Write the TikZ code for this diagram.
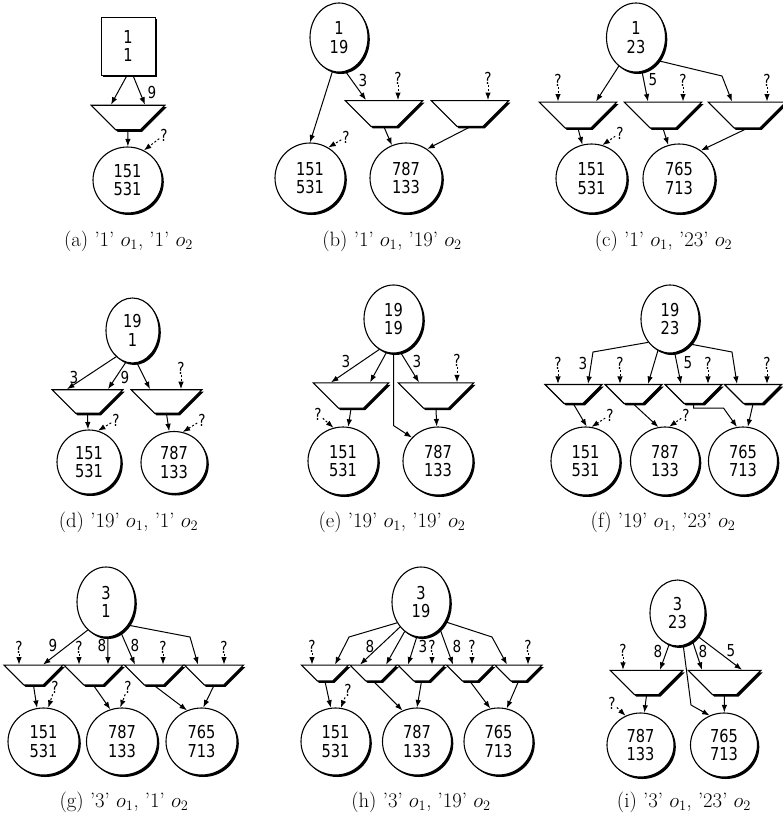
\documentclass[tikz,border=0pt]{standalone}
\usepackage{fontspec}
\newfontfamily\nodefont[FakeStretch=0.82]{DejaVu Sans}
\usetikzlibrary{shapes.geometric,shadows,arrows.meta,calc}

\tikzset{
  dshadow/.style={drop shadow={shadow xshift=1.8pt, shadow yshift=-2pt, fill=black, opacity=1}},
  res/.style 2 args={ellipse, draw, fill=white, line width=1.1pt, inner sep=0pt,
    minimum width=#1, minimum height=#2, align=center,
    font=\nodefont\fontsize{17.8}{18.3}\selectfont, dshadow},
  box/.style 2 args={rectangle, draw, fill=white, line width=1pt, inner sep=0pt,
    minimum width=#1, minimum height=#2, align=center,
    font=\nodefont\fontsize{17.8}{18.3}\selectfont, dshadow},
  mux/.style 2 args={trapezium, trapezium left angle=135, trapezium right angle=135,
    draw, fill=white, line width=1.1pt, inner sep=0.5pt,
    minimum width=#1, minimum height=#2, dshadow},
  lbl/.style={inner sep=1pt, font=\nodefont\fontsize{16.5}{17}\selectfont},
  link/.style={-{Latex[length=7.5pt,width=5.5pt]}, line width=1pt},
  qlink/.style={link, dash pattern=on 2pt off 2pt},
  subcap/.style={font=\huge}
}

\begin{document}
\begin{tikzpicture}[x=1pt,y=-1pt]
\useasboundingbox (0,0) rectangle (783,817);

% (a)
\node[box={54pt}{58pt}] (a-top) at (128,46) {1\\1};
\node[mux={74pt}{21pt}] (a-m1) at (128,117.5) {};
\node[res={69pt}{66pt}] (a-o1) at (127.5,180) {151\\531};
\node[lbl] (a-l1) at (152,92) {9};
\node[lbl] (a-q1) at (164,135) {?};
\node[subcap] (a-cap) at (128.5,241) {(a) '1' $o_1$, '1' $o_2$};
\draw[link] ($(a-top.south)+(-1,0)$) -- ($(a-m1.north)+(-17,0)$);
\draw[link] ($(a-top.south)+(5,0)$) -- ($(a-m1.north)+(17,0)$);
\draw[link] (a-m1.south) -- (a-o1);
\draw[qlink] (a-q1) -- (a-o1.61);

% (b)
\node[res={58pt}{69pt}] (b-top) at (339,37.5) {1\\19};
\node[mux={78pt}{23pt}] (b-m1) at (384,113.5) {};
\node[mux={78pt}{23pt}] (b-m2) at (470,113.5) {};
\node[res={70pt}{70pt}] (b-o1) at (310,178) {151\\531};
\node[res={72pt}{70pt}] (b-o2) at (406,178) {787\\133};
\node[lbl] (b-l1) at (363,80) {3};
\node[lbl] (b-q1) at (398,78) {?};
\node[lbl] (b-q2) at (488,78) {?};
\node[lbl] (b-q3) at (346,137) {?};
\node[subcap] (b-cap) at (392,241) {(b) '1' $o_1$, '19' $o_2$};
\draw[link] (b-top.-101) -- (b-o1.north);
\draw[link] (b-top.-79) -- ($(b-m1.north)+(-18,0)$);
\draw[qlink] (b-q1) -- ($(b-m1.north)+(14,0)$);
\draw[qlink] (b-q2) -- ($(b-m2.north)+(18,0)$);
\draw[link] (b-m1.south) -- (b-o2);
\draw[link] (b-m2.south) -- (b-o2.54);
\draw[qlink] (b-q3) -- (b-o1.59);

% (c)
\node[res={59pt}{69pt}] (c-top) at (636,37.5) {1\\23};
\node[mux={78pt}{24pt}] (c-m1) at (578,115) {};
\node[mux={78pt}{24pt}] (c-m2) at (663,115) {};
\node[mux={78pt}{24pt}] (c-m3) at (747,115) {};
\node[res={71pt}{69pt}] (c-o1) at (591.5,178.5) {151\\531};
\node[res={72pt}{69pt}] (c-o2) at (679,178.5) {765\\713};
\node[lbl] (c-l1) at (653,80) {5};
\node[lbl] (c-q1) at (558,80) {?};
\node[lbl] (c-q2) at (683,80) {?};
\node[lbl] (c-q3) at (767,80) {?};
\node[lbl] (c-q4) at (620,133) {?};
\node[subcap] (c-cap) at (663.5,241) {(c) '1' $o_1$, '23' $o_2$};
\draw[link] (c-top.-121) -- ($(c-m1.north)+(18,0)$);
\draw[link] (c-top.-80) -- ($(c-m2.north)+(-15,0)$);
\draw[link] (c-top.-46) -- (722,76) -- ($(c-m3.north)+(-15,0)$);
\draw[qlink] (c-q1) -- ($(c-m1.north)+(-20,0)$);
\draw[qlink] (c-q2) -- ($(c-m2.north)+(20,0)$);
\draw[qlink] (c-q3) -- ($(c-m3.north)+(20,0)$);
\draw[link] (c-m1.south) -- (c-o1);
\draw[link] (c-m2.south) -- (c-o2);
\draw[link] (c-m3.south) -- (c-o2.52);
\draw[qlink] (c-q4) -- (c-o1.72);

% (d)
\node[res={53pt}{65pt}] (d-top) at (132.5,330.5) {19\\1};
\node[mux={71pt}{21pt}] (d-m1) at (87.5,401.5) {};
\node[mux={71pt}{21pt}] (d-m2) at (166.5,401.5) {};
\node[res={64pt}{64pt}] (d-o1) at (89,462) {151\\531};
\node[res={66pt}{62pt}] (d-o2) at (174,462.5) {787\\133};
\node[lbl] (d-l1) at (74,377) {3};
\node[lbl] (d-l2) at (125,377) {9};
\node[lbl] (d-q1) at (181,368) {?};
\node[lbl] (d-q2) at (116,420) {?};
\node[lbl] (d-q3) at (202,420) {?};
\node[subcap] (d-cap) at (128.5,522) {(d) '19' $o_1$, '1' $o_2$};
\draw[link] (d-top.-122) -- ($(d-m1.north)+(-20.5,0)$);
\draw[link] (d-top.-102) -- ($(d-m1.north)+(20.5,0)$);
\draw[link] (d-top.-82) -- ($(d-m2.north)+(-16.5,0)$);
\draw[qlink] (d-q1) -- ($(d-m2.north)+(14.5,0)$);
\draw[link] (d-m1.south) -- (d-o1);
\draw[link] (d-m2.south) -- (d-o2);
\draw[qlink] (d-q2) -- (d-o1.74);
\draw[qlink] (d-q3) -- (d-o2.74);

% (e)
\node[res={59pt}{68pt}] (e-top) at (393.5,319) {19\\19};
\node[mux={76pt}{23pt}] (e-m1) at (351,395.5) {};
\node[mux={76pt}{23pt}] (e-m2) at (436,395.5) {};
\node[res={70pt}{68pt}] (e-o1) at (343,461) {151\\531};
\node[res={70pt}{68pt}] (e-o2) at (438,461) {787\\133};
\node[lbl] (e-l1) at (346,361) {3};
\node[lbl] (e-l2) at (417,361) {3};
\node[lbl] (e-q1) at (457,360) {?};
\node[lbl] (e-q2) at (318,414) {?};
\node[subcap] (e-cap) at (392,522) {(e) '19' $o_1$, '19' $o_2$};
\draw[link] (e-top.-115) -- ($(e-m1.north)+(-20,0)$);
\draw[link] (e-top.-102) -- ($(e-m1.north)+(19,0)$);
\draw[link] (e-top.south) -- ++(0,72) -- (e-o2.138);
\draw[link] (e-top.-78) -- ($(e-m2.north)+(-17,0)$);
\draw[qlink] (e-q1) -- ($(e-m2.north)+(21,0)$);
\draw[link] (e-m1.south) -- (e-o1);
\draw[link] (e-m2.south) -- (e-o2);
\draw[qlink] (e-q2) -- (e-o1.106);

% (f)
\node[res={58pt}{68pt}] (f-top) at (670,319) {19\\23};
\node[mux={57pt}{18pt}] (f-m1) at (573.5,394) {};
\node[mux={57pt}{18pt}] (f-m2) at (633.5,394) {};
\node[mux={57pt}{18pt}] (f-m3) at (693.5,394) {};
\node[mux={57pt}{18pt}] (f-m4) at (753,394) {};
\node[res={69pt}{68pt}] (f-o1) at (585.5,461) {151\\531};
\node[res={69pt}{68pt}] (f-o2) at (665,461) {787\\133};
\node[res={69pt}{68pt}] (f-o3) at (743,461) {765\\713};
\node[lbl] (f-l1) at (583,363) {3};
\node[lbl] (f-l2) at (688,363) {5};
\node[lbl] (f-q1) at (558,363) {?};
\node[lbl] (f-q2) at (620,363) {?};
\node[lbl] (f-q3) at (708,363) {?};
\node[lbl] (f-q4) at (767,363) {?};
\node[lbl] (f-q5) at (610,415) {?};
\node[lbl] (f-q6) at (686,415) {?};
\node[subcap] (f-cap) at (663,522) {(f) '19' $o_1$, '23' $o_2$};
\draw[link] (f-top.-133) -- (593,352) -- ($(f-m1.north)+(14.5,0)$);
\draw[link] (f-top.-111) -- ($(f-m2.north)+(14.5,0)$);
\draw[link] (f-top.-82) -- ($(f-m3.north)+(-12.5,0)$);
\draw[link] (f-top.-51) -- (732,352) -- ($(f-m4.north)+(-16,0)$);
\draw[qlink] (f-q1) -- ($(f-m1.north)+(-15.5,0)$);
\draw[qlink] (f-q2) -- ($(f-m2.north)+(-13.5,0)$);
\draw[qlink] (f-q3) -- ($(f-m3.north)+(14.5,0)$);
\draw[qlink] (f-q4) -- ($(f-m4.north)+(14,0)$);
\draw[link] (f-m1.south) -- (f-o1.88);
\draw[link] (f-m2.south) -- (f-o2.101);
\draw[link] (f-m3.south) -- ++(0,4) -- ++(30,0) -- (f-o3.100);
\draw[link] (f-m4.south) -- (f-o3.82);
\draw[qlink] (f-q5) -- (f-o1.80);
\draw[qlink] (f-q6) -- (f-o2.83);

% (g)
\node[res={58pt}{70pt}] (g-top) at (106,602) {3\\1};
\node[mux={59pt}{16pt}] (g-m1) at (33.5,675) {};
\node[mux={59pt}{16pt}] (g-m2) at (93.5,675) {};
\node[mux={59pt}{16pt}] (g-m3) at (154,675) {};
\node[mux={59pt}{16pt}] (g-m4) at (214,675) {};
\node[res={71pt}{67pt}] (g-o1) at (43.5,741.5) {151\\531};
\node[res={71pt}{67pt}] (g-o2) at (122,741.5) {787\\133};
\node[res={71pt}{67pt}] (g-o3) at (201.5,741.5) {765\\713};
\node[lbl] (g-l1) at (53,645) {9};
\node[lbl] (g-l2) at (102,645) {8};
\node[lbl] (g-l3) at (135,645) {8};
\node[lbl] (g-q1) at (19,647) {?};
\node[lbl] (g-q2) at (79,647) {?};
\node[lbl] (g-q3) at (163,647) {?};
\node[lbl] (g-q4) at (224,647) {?};
\node[lbl] (g-q5) at (55,687) {?};
\node[lbl] (g-q6) at (128,687) {?};
\node[subcap] (g-cap) at (124,802) {(g) '3' $o_1$, '1' $o_2$};
\draw[link] (g-top.-123) -- ($(g-m1.north)+(9.5,0)$);
\draw[link] (g-top.-87) -- ($(g-m2.north)+(14.5,0)$);
\draw[link] (g-top.-64) -- ($(g-m3.north)+(-19,0)$);
\draw[link] (g-top.-46) -- (190,637) -- ($(g-m4.north)+(-16,0)$);
\draw[qlink] (g-q1) -- ($(g-m1.north)+(-14.5,0)$);
\draw[qlink] (g-q2) -- ($(g-m2.north)+(-14.5,0)$);
\draw[qlink] (g-q3) -- ($(g-m3.north)+(9,0)$);
\draw[qlink] (g-q4) -- ($(g-m4.north)+(10,0)$);
\draw[link] (g-m1.south) -- (g-o1.101);
\draw[link] (g-m2.south) -- (g-o2.110);
\draw[link] (g-m3.south) -- (g-o3.115);
\draw[link] (g-m4.south) -- (g-o3.87);
\draw[qlink] (g-q5) -- (g-o1.82);
\draw[qlink] (g-q6) -- (g-o2.93);

% (h)
\node[res={58pt}{70pt}] (h-top) at (421,602) {3\\19};
\node[mux={47pt}{14pt}] (h-m1) at (325,673) {};
\node[mux={47pt}{14pt}] (h-m2) at (373.5,673) {};
\node[mux={47pt}{14pt}] (h-m3) at (421.5,673) {};
\node[mux={47pt}{14pt}] (h-m4) at (470,673) {};
\node[mux={47pt}{14pt}] (h-m5) at (518.5,673) {};
\node[res={69pt}{67pt}] (h-o1) at (335.5,741.5) {151\\531};
\node[res={69pt}{67pt}] (h-o2) at (417,741.5) {787\\133};
\node[res={69pt}{67pt}] (h-o3) at (498.5,741.5) {765\\713};
\node[lbl] (h-l1) at (370,646) {8};
\node[lbl] (h-l2) at (423,646) {3};
\node[lbl] (h-l3) at (457,646) {8};
\node[lbl] (h-q1) at (312,646) {?};
\node[lbl] (h-q2) at (432,646) {?};
\node[lbl] (h-q3) at (472,646) {?};
\node[lbl] (h-q4) at (528,646) {?};
\node[lbl] (h-q5) at (348,690) {?};
\node[subcap] (h-cap) at (421,802) {(h) '3' $o_1$, '19' $o_2$};
\draw[link] (h-top.-139) -- (349,637) -- ($(h-m1.north)+(10,0)$);
\draw[link] (h-top.-130) -- ($(h-m2.north)+(-13.5,0)$);
\draw[link] (h-top.-119) -- ($(h-m2.north)+(12.5,0)$);
\draw[link] (h-top.-97) -- ($(h-m3.north)+(-13.5,0)$);
\draw[link] (h-top.-55) -- ($(h-m4.north)+(-17,0)$);
\draw[link] (h-top.-39) -- (492,637) -- ($(h-m5.north)+(-11.5,0)$);
\draw[qlink] (h-q1) -- ($(h-m1.north)+(-13,0)$);
\draw[qlink] (h-q2) -- ($(h-m3.north)+(10.5,0)$);
\draw[qlink] (h-q3) -- ($(h-m4.north)+(2,0)$);
\draw[qlink] (h-q4) -- ($(h-m5.north)+(9.5,0)$);
\draw[link] (h-m1.south) -- (h-o1.98);
\draw[link] (h-m2.south) -- (h-o2.115);
\draw[link] (h-m3.south) -- (h-o2.north);
\draw[link] (h-m4.south) -- (h-o3.104);
\draw[link] (h-m5.south) -- (h-o3.76);
\draw[qlink] (h-q5) -- (h-o1.81);

% (i)
\node[res={55pt}{66pt}] (i-top) at (677.5,613) {3\\23};
\node[mux={73pt}{21pt}] (i-m1) at (646.5,682.5) {};
\node[mux={73pt}{21pt}] (i-m2) at (724.5,682.5) {};
\node[res={67pt}{64pt}] (i-o1) at (640.5,745) {787\\133};
\node[res={67pt}{64pt}] (i-o2) at (724,745) {765\\713};
\node[lbl] (i-l1) at (658,651) {8};
\node[lbl] (i-l2) at (703,651) {8};
\node[lbl] (i-l3) at (731,651) {5};
\node[lbl] (i-q1) at (623,650) {?};
\node[lbl] (i-q2) at (612,703) {?};
\node[subcap] (i-cap) at (684,802) {(i) '3' $o_1$, '23' $o_2$};
\draw[qlink] (i-q1) -- ($(i-m1.north)+(-23.5,0)$);
\draw[link] (i-top.-105) -- ($(i-m1.north)+(13.5,0)$);
\draw[link] (i-top.-80) -- (691,705) -- (i-o2.116);
\draw[link] (i-top.-62) -- ($(i-m2.north)+(-22.5,0)$);
\draw[link] (i-top.-49) -- ($(i-m2.north)+(17.5,0)$);
\draw[link] (i-m1.south) -- (i-o1);
\draw[link] (i-m2.south) -- (i-o2);
\draw[qlink] (i-q2) -- (i-o1.117);
\end{tikzpicture}
\end{document}
